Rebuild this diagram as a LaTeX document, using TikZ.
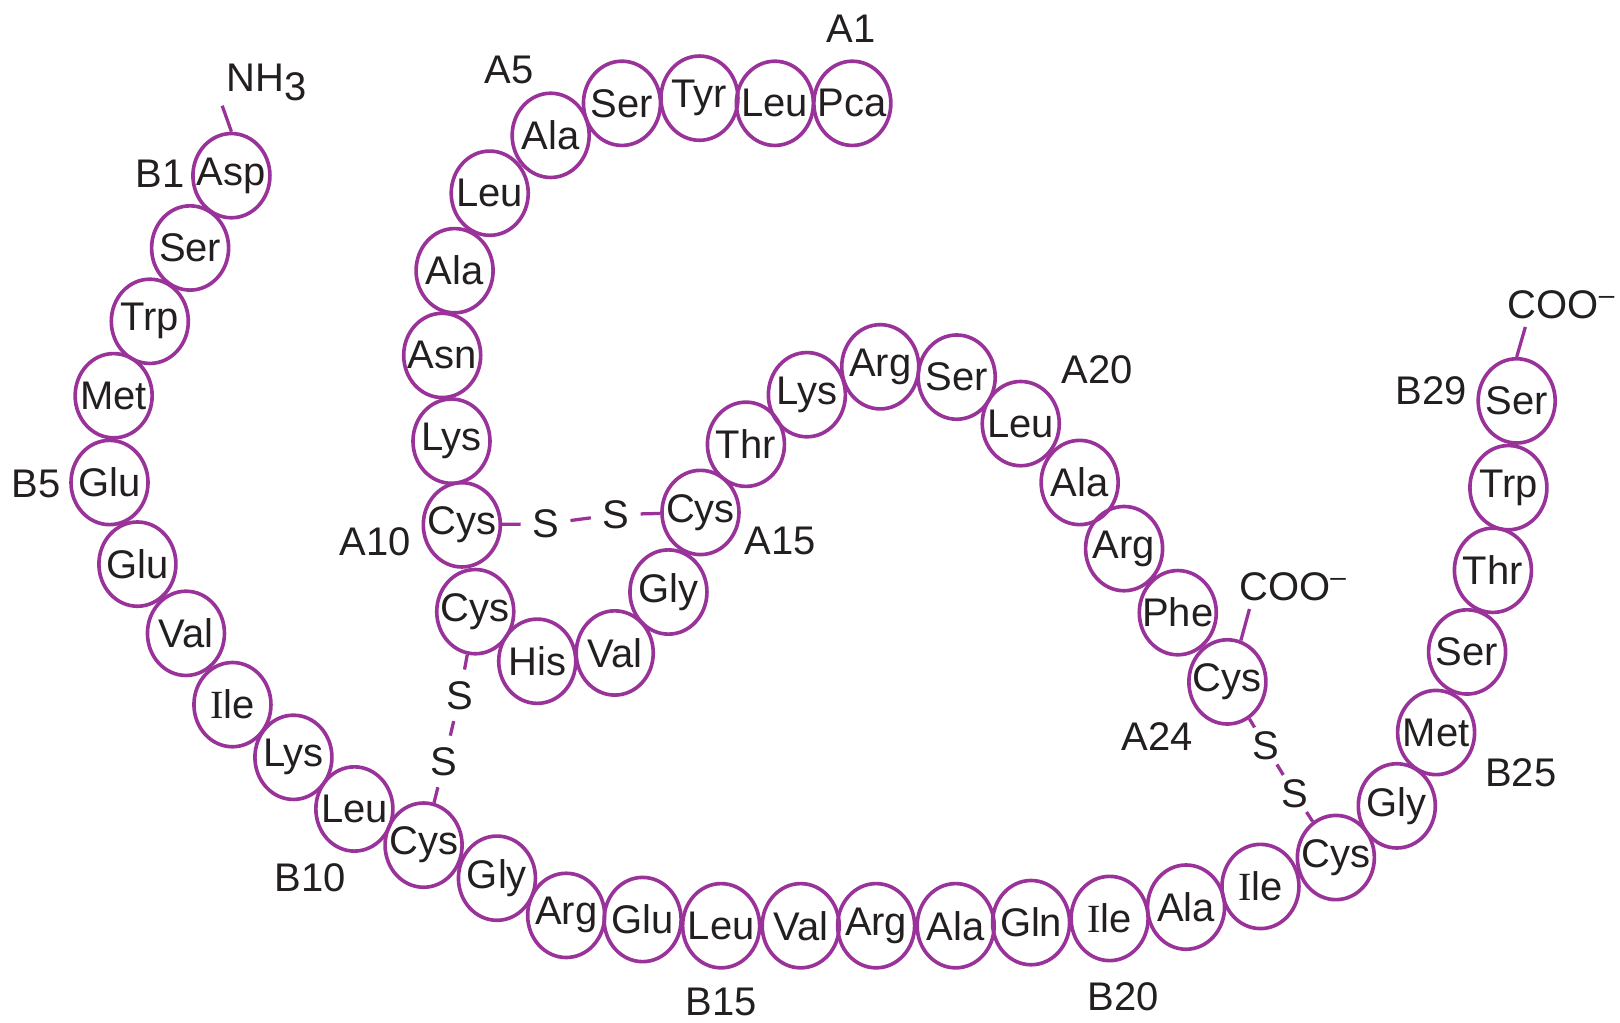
\documentclass[tikz,border=0pt]{standalone}
\usepackage{fontspec}
\setmainfont{Liberation Sans}
\newfontfamily\serifI{Liberation Serif}
\usepackage{tikz}
\usetikzlibrary{shapes.geometric}
\definecolor{purple1}{RGB}{153,51,153}
\definecolor{ink1}{RGB}{35,31,32}
\def\Ile{{\serifI I}le}
\newcommand{\res}[1]{\makebox[0pt]{#1}}

\begin{document}
\begin{tikzpicture}[x=0.01cm, y=-0.01cm,
    residue/.style={shape=ellipse, draw=purple1, line width=1pt, inner sep=0pt, minimum width=0.745cm, minimum height=0.815cm, text=ink1, font=\fontsize{11}{13}\selectfont},
    sulfur/.style={text=ink1, inner sep=3pt, font=\fontsize{11}{13}\selectfont},
    tag/.style={text=ink1, inner sep=0pt, font=\fontsize{11}{13}\selectfont},
    bond/.style={draw=purple1, line width=0.9pt}
]
        \useasboundingbox (0,0) rectangle (1568,990);

        % A chain
        \node[residue, name=a1] at(825,100) {\res{Pca}};
        \node[residue, name=a2] at(750,100) {\res{Leu}};
        \node[residue, name=a3] at(677,95) {\res{Tyr}};
        \node[residue, name=a4] at(602,100) {\res{Ser}};
        \node[residue, name=a5] at(533,131) {\res{Ala}};
        \node[residue, name=a6] at(474,187) {\res{Leu}};
        \node[residue, name=a7] at(440,262) {\res{Ala}};
        \node[residue, name=a8] at(428,344) {\res{Asn}};
        \node[residue, name=a9] at(437,427) {\res{Lys}};
        \node[residue, name=a10] at(447,508) {\res{Cys}};
        \node[residue, name=a11] at(460,592) {\res{Cys}};
        \node[residue, name=a12] at(520,640) {\res{His}};
        \node[residue, name=a13] at(595,632) {\res{Val}};
        \node[residue, name=a14] at(647,573) {\res{Gly}};
        \node[residue, name=a15] at(678,496) {\res{Cys}};
        \node[residue, name=a16] at(722,430) {\res{Thr}};
        \node[residue, name=a17] at(781,382) {\res{Lys}};
        \node[residue, name=a18] at(852,355) {\res{Arg}};
        \node[residue, name=a19] at(926,365) {\res{Ser}};
        \node[residue, name=a20] at(988,410) {\res{Leu}};
        \node[residue, name=a21] at(1045,467) {\res{Ala}};
        \node[residue, name=a22] at(1088,531) {\res{Arg}};
        \node[residue, name=a23] at(1140,593) {\res{Phe}};
        \node[residue, name=a24] at(1188,660) {\res{Cys}};

        % B chain
        \node[residue, name=b1] at(224,170) {\res{Asp}};
        \node[residue, name=b2] at(184,240) {\res{Ser}};
        \node[residue, name=b3] at(145,311) {\res{Trp}};
        \node[residue, name=b4] at(110,383) {\res{Met}};
        \node[residue, name=b5] at(106,467) {\res{Glu}};
        \node[residue, name=b6] at(133,546) {\res{Glu}};
        \node[residue, name=b7] at(180,613) {\res{Val}};
        \node[residue, name=b8] at(225,682) {\res{\Ile}};
        \node[residue, name=b9] at(284,733) {\res{Lys}};
        \node[residue, name=b10] at(343,783) {\res{Leu}};
        \node[residue, name=b11] at(410,818) {\res{Cys}};
        \node[residue, name=b12] at(481,850) {\res{Gly}};
        \node[residue, name=b13] at(548,886) {\res{Arg}};
        \node[residue, name=b14] at(622,890) {\res{Glu}};
        \node[residue, name=b15] at(698,896) {\res{Leu}};
        \node[residue, name=b16] at(775,896) {\res{Val}};
        \node[residue, name=b17] at(848,896) {\res{Arg}};
        \node[residue, name=b18] at(925,896) {\res{Ala}};
        \node[residue, name=b19] at(998,893) {\res{Gln}};
        \node[residue, name=b20] at(1074,889) {\res{\Ile}};
        \node[residue, name=b21] at(1148,878) {\res{Ala}};
        \node[residue, name=b22] at(1220,858) {\res{\Ile}};
        \node[residue, name=b23] at(1293,830) {\res{Cys}};
        \node[residue, name=b24] at(1352,780) {\res{Gly}};
        \node[residue, name=b25] at(1390,709) {\res{Met}};
        \node[residue, name=b26] at(1420,631) {\res{Ser}};
        \node[residue, name=b27] at(1445,552) {\res{Thr}};
        \node[residue, name=b28] at(1460,472) {\res{Trp}};
        \node[residue, name=b29] at(1468,388) {\res{Ser}};

        % ends and position labels
        \node[tag, name=nh3] at(258,80) {NH\raisebox{-0.45ex}{3}};
        \node[tag, name=cooA] at(1252,568) {COO\textsuperscript{–}};
        \node[tag, name=cooB] at(1512,295) {COO\textsuperscript{–}};
        \node[tag] at(824,28) {A1};
        \node[tag] at(493,68) {A5};
        \node[tag] at(363,524) {A10};
        \node[tag] at(755,524) {A15};
        \node[tag] at(1062,358) {A20};
        \node[tag] at(1120,713) {A24};
        \node[tag] at(155,168) {B1};
        \node[tag] at(35,468) {B5};
        \node[tag] at(300,850) {B10};
        \node[tag] at(698,970) {B15};
        \node[tag] at(1087,965) {B20};
        \node[tag] at(1472,748) {B25};
        \node[tag] at(1385,378) {B29};

        % disulfide bridges
        \node[sulfur, name=s1] at(528,507) {S};
        \node[sulfur, name=s2] at(596,498) {S};
        \node[sulfur, name=s3] at(445,673) {S};
        \node[sulfur, name=s4] at(430,737) {S};
        \node[sulfur, inner sep=1pt, name=s5] at(1225,722) {S};
        \node[sulfur, inner sep=1pt, name=s6] at(1253,768) {S};

        \draw[bond] (a10) -- (s1);
        \draw[bond] (s1) -- (s2);
        \draw[bond] (s2) -- (a15);
        \draw[bond] (a11) -- (s3);
        \draw[bond] (s3) -- (s4);
        \draw[bond] (s4) -- (b11);
        \draw[bond] (a24) -- (s5);
        \draw[bond] (s5) -- (s6);
        \draw[bond] (s6) -- (b23);

        \draw[bond] (b1.north) -- ([xshift=-1pt,yshift=-1pt]nh3.south west);
        \draw[bond] (a24.72) -- ([xshift=3pt,yshift=-2pt]cooA.south west);
        \draw[bond] (b29.north) -- ([xshift=5pt,yshift=-2pt]cooB.south west);
\end{tikzpicture}
\end{document}
